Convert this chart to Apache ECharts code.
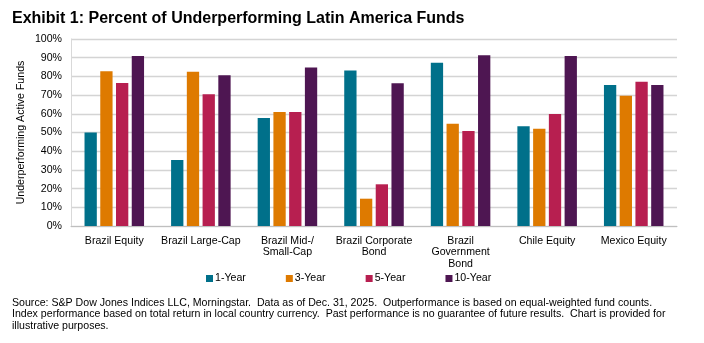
<!DOCTYPE html>
<html lang="en" style="height: 100%">
<head>
  <meta charset="utf-8">
</head>
<body style="height: 100%; margin: 0; background: #fff">
  <div id="container" style="width: 704px; height: 343px"></div>

  <script type="text/javascript" src="https://cdn.jsdelivr.net/npm/echarts@6/dist/echarts.min.js"></script>

  <script type="text/javascript">
    // data
    var categories = ['Brazil Equity', 'Brazil Large-Cap', 'Brazil Mid-/\nSmall-Cap', 'Brazil Corporate\nBond',
      'Brazil\nGovernment\nBond', 'Chile Equity', 'Mexico Equity'];
    var year1 = [50.0, 35.3, 57.8, 83.2, 87.3, 53.3, 75.4];
    var year3 = [82.7, 82.5, 61.0, 14.6, 54.7, 52.0, 69.7];
    var year5 = [76.5, 70.4, 61.0, 22.3, 50.8, 59.9, 77.2];
    var year10 = [90.9, 80.6, 84.8, 76.3, 91.3, 90.9, 75.4];
    var seriesNames = ['1-Year', '3-Year', '5-Year', '10-Year'];
    var colors = ['#00708A', '#DE7A00', '#B71F50', '#4E1652'];
    var yTicks = [0, 10, 20, 30, 40, 50, 60, 70, 80, 90, 100];

    var FONT = '"Liberation Sans", Arial, sans-serif';
    var footer = 'Source: S&P Dow Jones Indices LLC, Morningstar.  Data as of Dec. 31, 2025.  Outperformance is based on equal-weighted fund counts.\n' +
      'Index performance based on total return in local country currency.  Past performance is no guarantee of future results.  Chart is provided for\n' +
      'illustrative purposes.';

    var dom = document.getElementById('container');
    var myChart = echarts.init(dom, null, { renderer: 'canvas' });

    var allData = [year1, year3, year5, year10];
    var series = allData.map(function (d, i) {
      return {
        name: seriesNames[i],
        type: 'bar',
        data: d,
        barWidth: 12.3,
        barGap: '28%',
        itemStyle: { color: colors[i] }
      };
    });

    var option = {
      animation: false,
      color: colors,
      textStyle: { fontFamily: FONT },
      title: {
        text: 'Exhibit 1: Percent of Underperforming Latin America Funds',
        left: 12,
        top: 11,
        padding: 0,
        textStyle: { fontFamily: FONT, fontSize: 16, fontWeight: 'bold', color: '#000' }
      },
      legend: {
        data: seriesNames,
        left: 206,
        top: 273,
        padding: 0,
        itemWidth: 7,
        itemHeight: 7,
        itemGap: 40,
        icon: 'rect',
        textStyle: { fontFamily: FONT, fontSize: 10.6, color: '#000', padding: [0, 0, 0, -3] }
      },
      grid: { left: 71, right: 27, top: 39, bottom: 117 },
      xAxis: {
        type: 'category',
        data: categories,
        axisLine: { lineStyle: { color: '#BFBFBF', width: 1 } },
        axisTick: { show: false },
        axisLabel: {
          interval: 0,
          margin: 9,
          fontFamily: FONT,
          fontSize: 10.6,
          lineHeight: 11.7,
          color: '#000',
          align: 'center'
        }
      },
      yAxis: {
        type: 'value',
        min: yTicks[0],
        max: yTicks[yTicks.length - 1],
        interval: 10,
        name: 'Underperforming Active Funds',
        nameLocation: 'middle',
        nameGap: 44,
        nameMoveOverlap: false,
        nameTextStyle: { fontFamily: FONT, fontSize: 10.6, color: '#000' },
        axisLine: { show: true, lineStyle: { color: '#D9D9D9' } },
        axisTick: { show: false },
        axisLabel: {
          margin: 9,
          fontFamily: FONT,
          fontSize: 10.6,
          color: '#000',
          formatter: '{value}%'
        },
        splitLine: { lineStyle: { color: '#D4D4D4', width: 1.3 } }
      },
      graphic: [{
        type: 'text',
        left: 12,
        top: 297,
        style: {
          text: footer,
          fontFamily: FONT,
          fontSize: 10.6,
          lineHeight: 11.5,
          fill: '#000'
        }
      }],
      series: series
    };

    myChart.setOption(option);
    window.addEventListener('resize', myChart.resize);
  </script>
</body>
</html>
